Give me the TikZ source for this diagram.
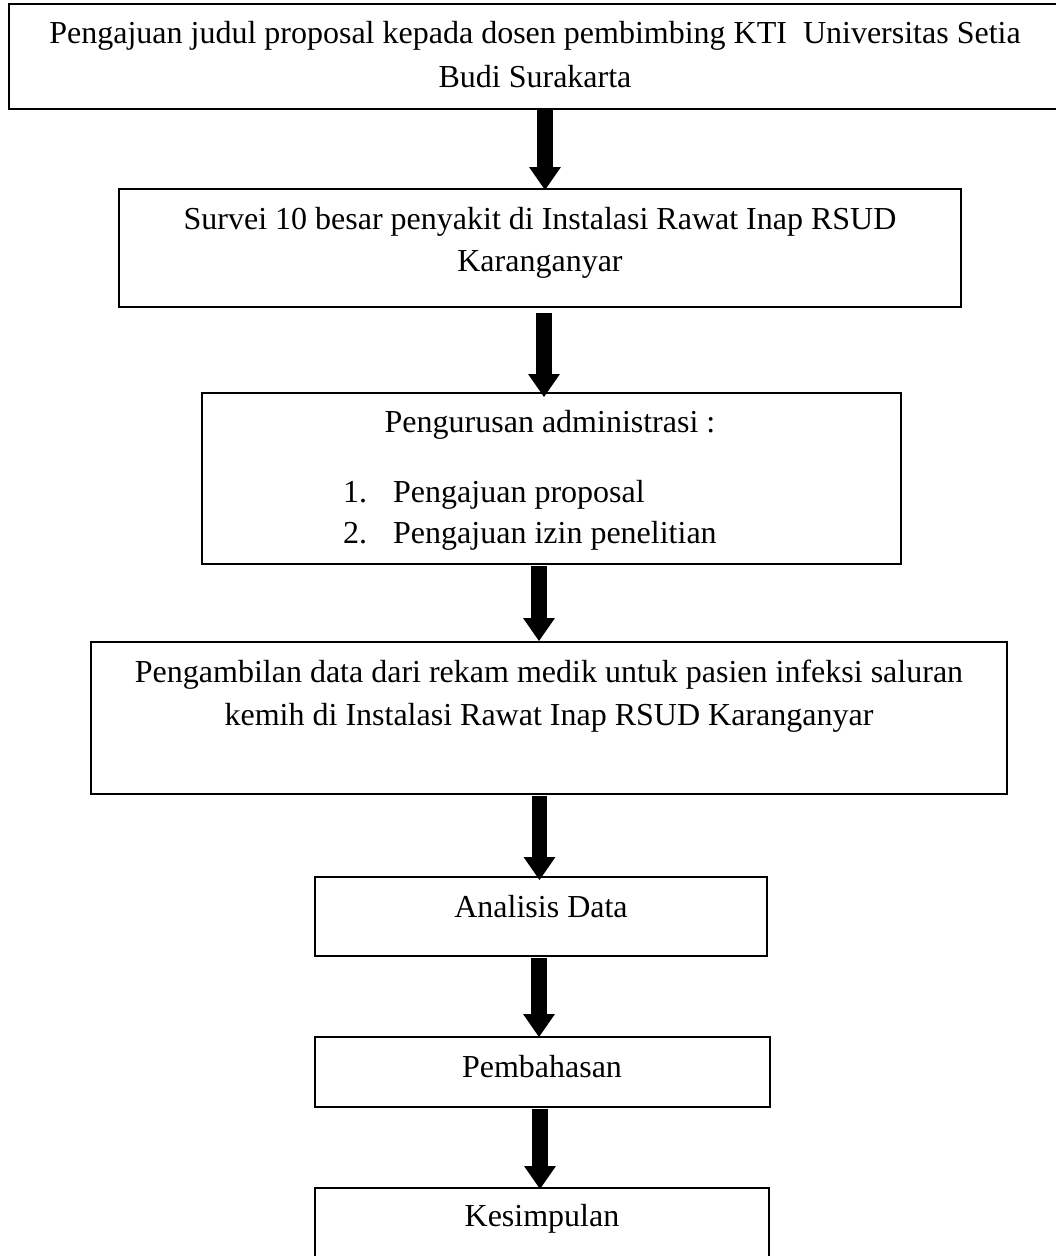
\documentclass[tikz,border=0pt]{standalone}
\usepackage{fontspec}
\setmainfont{Liberation Serif}
\usetikzlibrary{arrows.meta}
\begin{document}
\begin{tikzpicture}[x=1pt,y=-1pt,
  box/.style={draw, line width=1.6pt, rectangle, inner sep=0pt},
  txt/.style={anchor=base, inner sep=0pt, font=\fontsize{32}{44}\selectfont},
  txtl/.style={anchor=base west, inner sep=0pt, font=\fontsize{32}{44}\selectfont},
  bigarrow/.style={line width=15.5pt, -{Triangle[width=30pt,length=23pt]}}]
\useasboundingbox (0,0) rectangle (1056,1256);
\clip (0,0) rectangle (1056,1256);
% boxes
\node[box, minimum width=1052pt, minimum height=105pt] (b1) at (535,56.5) {};
\node[box, minimum width=842pt, minimum height=118pt] (b2) at (540,248) {};
\node[box, minimum width=699pt, minimum height=171pt] (b3) at (551.5,478.5) {};
\node[box, minimum width=916pt, minimum height=152pt] (b4) at (549,718) {};
\node[box, minimum width=452pt, minimum height=79pt] (b5) at (541,916.5) {};
\node[box, minimum width=455pt, minimum height=70pt] (b6) at (542.5,1072) {};
\node[box, minimum width=454pt, minimum height=112pt] (b7) at (542,1244) {};
% texts
\node[txt] (t1a) at (535,43) {Pengajuan judul proposal kepada dosen pembimbing KTI\ \ Universitas Setia};
\node[txt] (t1b) at (535,87) {Budi Surakarta};
\node[txt] (t2a) at (540,229) {Survei 10 besar penyakit di Instalasi Rawat Inap RSUD};
\node[txt] (t2b) at (540,271) {Karanganyar};
\node[txt] (t3a) at (550,432) {Pengurusan administrasi :};
\node[txtl] (n1) at (343,502) {1.};
\node[txtl] (t3b) at (393,502) {Pengajuan proposal};
\node[txtl] (n2) at (343,543) {2.};
\node[txtl] (t3c) at (393,543) {Pengajuan izin penelitian};
\node[txt] (t4a) at (549,682) {Pengambilan data dari rekam medik untuk pasien infeksi saluran};
\node[txt] (t4b) at (549,725) {kemih di Instalasi Rawat Inap RSUD Karanganyar};
\node[txt] (t5) at (541,917) {Analisis Data};
\node[txt] (t6) at (542,1077) {Pembahasan};
\node[txt] (t7) at (542,1226) {Kesimpulan};
% arrows
\draw[bigarrow] ([xshift=10pt]b1.south) -- ([xshift=5pt,yshift=-2pt]b2.north);
\draw[bigarrow] ([xshift=4pt,yshift=-5pt]b2.south) -- ([xshift=-7.5pt,yshift=-5pt]b3.north);
\draw[bigarrow] ([xshift=-12.5pt,yshift=-1pt]b3.south) -- ([xshift=-10pt]b4.north);
\draw[bigarrow] ([xshift=-9.5pt,yshift=-1pt]b4.south) -- ([xshift=-1.5pt,yshift=-4pt]b5.north);
\draw[bigarrow] ([xshift=-2pt,yshift=-1pt]b5.south) -- ([xshift=-3.5pt,yshift=-1pt]b6.north);
\draw[bigarrow] ([xshift=-2.5pt,yshift=-1pt]b6.south) -- ([xshift=-2pt,yshift=-2pt]b7.north);
\end{tikzpicture}
\end{document}
